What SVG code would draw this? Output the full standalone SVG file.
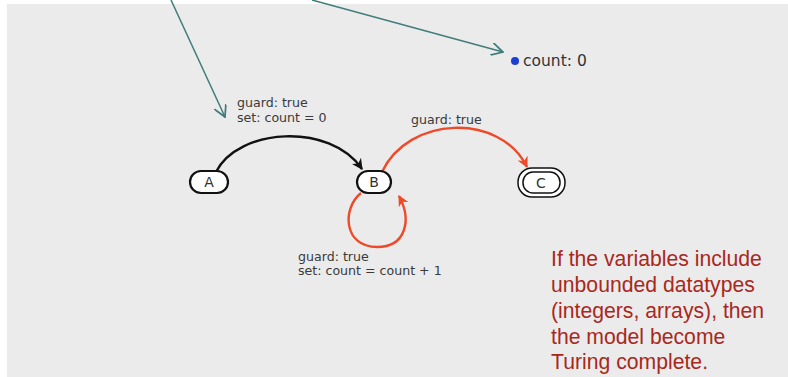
<svg xmlns="http://www.w3.org/2000/svg" width="788" height="377" viewBox="0 0 788 377">
  <style>
    .lbl { font-family: "DejaVu Sans", "Liberation Sans", sans-serif; font-size: 12.6px; fill: #3a3a3a; }
    .node { fill: #ffffff; stroke: #111111; stroke-width: 2.2; }
    .name { font-family: "DejaVu Sans", "Liberation Sans", sans-serif; font-size: 14px; fill: #333333; text-anchor: middle; }
    .note { font-family: "Liberation Sans", Arial, sans-serif; font-size: 21.2px; fill: #a8281c; }
    .edge { fill: none; stroke-width: 2.4; }
    .ptr { fill: none; stroke: #3f7c7a; stroke-width: 1.5; }
  </style>
  <defs>
    <marker id="headBlack" viewBox="0 0 10 10" refX="9" refY="5" markerWidth="11" markerHeight="11" orient="auto" markerUnits="userSpaceOnUse">
      <path d="M0,0 L10,5 L0,10 L3,5 z" fill="#111111"/>
    </marker>
    <marker id="headRed" viewBox="0 0 10 10" refX="9" refY="5" markerWidth="11" markerHeight="11" orient="auto" markerUnits="userSpaceOnUse">
      <path d="M0,0 L10,5 L0,10 L3,5 z" fill="#ee4a2a"/>
    </marker>
    <marker id="headTeal" viewBox="0 0 12 12" refX="11" refY="6" markerWidth="13" markerHeight="13" orient="auto" markerUnits="userSpaceOnUse">
      <path d="M0,0 L11,6 L0,12" fill="none" stroke="#3f7c7a" stroke-width="1.6"/>
    </marker>
  </defs>

  <!-- slide panel -->
  <rect x="0" y="0" width="788" height="377" fill="#ffffff"/>
  <rect x="7" y="4" width="781" height="373" fill="#ebebeb"/>

  <!-- connectors -->
  <g id="connectors">
    <path class="ptr" d="M171,0 L225,117" marker-end="url(#headTeal)"/>
    <path class="ptr" d="M312,0 L503,52" marker-end="url(#headTeal)"/>
    <path class="edge" stroke="#111111" d="M216,172 C238,128 330,122 362,169" marker-end="url(#headBlack)"/>
    <path class="edge" stroke="#ee4a2a" d="M382,172 C408,116 500,112 527,167" marker-end="url(#headRed)"/>
    <path class="edge" stroke="#ee4a2a" d="M361,193 C342,208 343,247 377,247 C406,247 412,220 399,196" marker-end="url(#headRed)"/>
  </g>

  <!-- transition labels -->
  <g id="labels">
    <text class="lbl" x="237" y="107">guard: true</text>
    <text class="lbl" x="237" y="122">set: count = 0</text>
    <text class="lbl" x="411" y="124">guard: true</text>
    <text class="lbl" x="298" y="261">guard: true</text>
    <text class="lbl" x="298" y="275">set: count = count + 1</text>
  </g>

  <!-- variable -->
  <g id="var-count">
    <circle cx="515" cy="61" r="4" fill="#1a3fd6"/>
    <text x="523" y="66" font-family="DejaVu Sans, Liberation Sans, sans-serif" font-size="15.5" fill="#333333">count: 0</text>
  </g>

  <!-- states -->
  <g id="state-A">
    <rect class="node" x="190" y="171" width="38" height="22" rx="11"/>
    <text class="name" x="209" y="187">A</text>
  </g>
  <g id="state-B">
    <rect class="node" x="357" y="171" width="34" height="22" rx="11" stroke-width="1.5"/>
    <text class="name" x="374" y="187">B</text>
  </g>
  <g id="state-C">
    <rect x="518" y="168" width="47" height="29" rx="14" fill="#ffffff" stroke="#111111" stroke-width="1.5"/>
    <rect x="523" y="172" width="37" height="21" rx="10" fill="#ffffff" stroke="#111111" stroke-width="1.5"/>
    <text class="name" x="541" y="188">C</text>
  </g>

  <!-- note -->
  <g id="note">
    <text class="note" x="551" y="266">If the variables include</text>
    <text class="note" x="551" y="292">unbounded datatypes</text>
    <text class="note" x="551" y="318">(integers, arrays), then</text>
    <text class="note" x="551" y="344">the model become</text>
    <text class="note" x="551" y="369">Turing complete.</text>
  </g>
</svg>
